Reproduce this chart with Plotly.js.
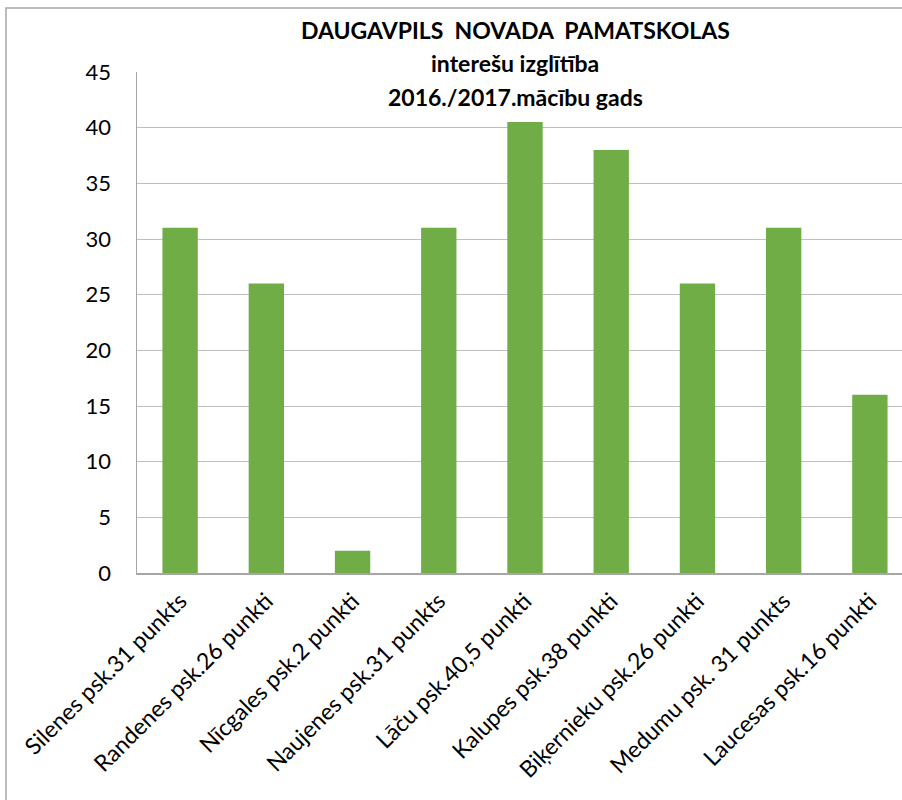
<!DOCTYPE html>
<html><head><meta charset="utf-8">
<script src="https://cdn.plot.ly/plotly-3.0.1.min.js"></script>
<style>html,body{margin:0;padding:0;overflow:hidden;background:#fff}</style>
</head><body><div id="chart"></div>
<script>
const categories = ["Silenes psk.31 punkts","Randenes psk.26 punkti","Nīcgales psk.2 punkti","Naujenes psk.31 punkts","Lāču psk.40,5 punkti","Kalupes psk.38 punkti","Biķernieku psk.26 punkti","Medumu psk. 31 punkts","Laucesas psk.16 punkti"];
const values = [31, 26, 2, 31, 40.5, 38, 26, 31, 16];
const yTicks = [0,5,10,15,20,25,30,35,40,45];
const titleLines = ["DAUGAVPILS  NOVADA  PAMATSKOLAS", "interešu izglītība", "2016./2017.mācību gads"];

const W = 913, H = 800, L = 137, R = 0, T = 72, B = 227;
const pw = W - L - R, ph = H - T - B;
const FONT = 'Lato, "Open Sans", sans-serif';
const titleY = [30, 63, 97];

Plotly.newPlot('chart', [{
  type: 'bar', x: categories, y: values,
  marker: {color: '#70AD47'}, hoverinfo: 'x+y'
}], {
  width: W, height: H,
  margin: {l: L, r: R, t: T, b: B, pad: 0},
  paper_bgcolor: '#fff', plot_bgcolor: '#fff',
  font: {family: FONT, color: '#000'},
  bargap: 0.59,
  showlegend: false,
  xaxis: {
    tickangle: -45, tickfont: {size: 23}, showline: true, linecolor: '#a6a6a6', linewidth: 1.5,
    ticks: '', showgrid: false, automargin: false, ticklabelstandoff: 4
  },
  yaxis: {
    range: [0, 45], tickvals: yTicks, ticktext: yTicks.map(String),
    tickfont: {size: 22}, showline: true, linecolor: '#a6a6a6', linewidth: 1.5,
    gridcolor: '#bfbfbf', gridwidth: 1, zeroline: false, ticks: '', ticklabelstandoff: 20, automargin: false
  },
  annotations: titleLines.map((t, i) => ({
    text: '<b>' + t + '</b>', showarrow: false,
    xref: 'paper', x: (515 - L) / pw, xanchor: 'center',
    yref: 'paper', y: (T + ph - titleY[i]) / ph, yanchor: 'middle',
    font: {size: 23, family: FONT, color: '#000'}
  })),
  shapes: [{
    type: 'rect', xref: 'paper', yref: 'paper',
    x0: (6 - L) / pw, x1: 1.05, y0: -(H + 10 - T - ph) / ph, y1: (T + ph - 8) / ph,
    line: {color: '#a6a6a6', width: 1.5}, fillcolor: 'rgba(0,0,0,0)', layer: 'below'
  }]
}, {staticPlot: true});
</script></body></html>
